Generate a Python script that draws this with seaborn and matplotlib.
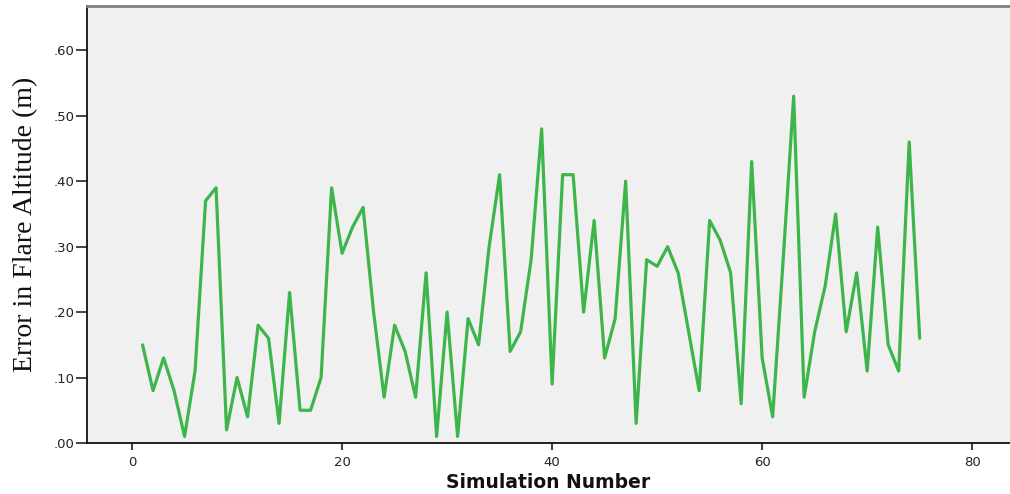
import numpy as np
import pandas as pd
import matplotlib
matplotlib.use("Agg")
import matplotlib.pyplot as plt
import seaborn as sns

simulation = list(range(1, 76))
error = [0.15, 0.08, 0.13, 0.08, 0.01, 0.11, 0.37, 0.39, 0.02, 0.10,
         0.04, 0.18, 0.16, 0.03, 0.23, 0.05, 0.05, 0.10, 0.39, 0.29,
         0.33, 0.36, 0.20, 0.07, 0.18, 0.14, 0.07, 0.26, 0.01, 0.20,
         0.01, 0.19, 0.15, 0.30, 0.41, 0.14, 0.17, 0.28, 0.48, 0.09,
         0.41, 0.41, 0.20, 0.34, 0.13, 0.19, 0.40, 0.03, 0.28, 0.27,
         0.30, 0.26, 0.17, 0.08, 0.34, 0.31, 0.26, 0.06, 0.43, 0.13,
         0.04, 0.28, 0.53, 0.07, 0.17, 0.24, 0.35, 0.17, 0.26, 0.11,
         0.33, 0.15, 0.11, 0.46, 0.16]
x_ticks = [0, 20, 40, 60, 80]
y_ticks = [0.0, 0.1, 0.2, 0.3, 0.4, 0.5, 0.6]
y_tick_labels = [".00", ".10", ".20", ".30", ".40", ".50", ".60"]

df = pd.DataFrame({"Simulation Number": simulation, "Error": error})

sns.set_theme(style="white")
plt.rcParams["font.family"] = ["DejaVu Sans"]

fig = plt.figure(figsize=(10.10, 4.94), dpi=100)
ax = fig.add_axes([87 / 1010, 1 - 443 / 494, 1 - 87 / 1010, (443 - 6.5) / 494])
ax.set_facecolor("#f0f0f0")

sns.lineplot(data=df, x="Simulation Number", y="Error", ax=ax,
             color="#3db54a", linewidth=2.3)

ax.set_xlim(-4.29, 83.6)
ax.set_ylim(0, 0.667)
ax.set_xticks(x_ticks)
ax.set_xticklabels([str(t) for t in x_ticks], fontsize=9.5, color="#222222")
ax.set_yticks(y_ticks)
ax.set_yticklabels(y_tick_labels, fontsize=9.5, color="#222222")

ax.tick_params(axis="y", direction="out", length=8, width=1.2, color="#222222", pad=1, left=True)
ax.tick_params(axis="x", direction="out", length=5, width=1.5, color="#444444", pad=4, bottom=True)

for side in ["left", "bottom"]:
    ax.spines[side].set_color("#111111")
    ax.spines[side].set_linewidth(1.3)
ax.spines["top"].set_color("#808080")
ax.spines["top"].set_linewidth(2)
ax.spines["right"].set_visible(False)

ax.set_xlabel("Simulation Number", fontsize=13.5, fontweight="bold", color="#111111", labelpad=3)
ax.set_ylabel("Error in Flare Altitude (m)", fontsize=20, family=["Liberation Serif"],
              color="#111111", labelpad=11)

fig.savefig("out.png", dpi=100, facecolor="white")
